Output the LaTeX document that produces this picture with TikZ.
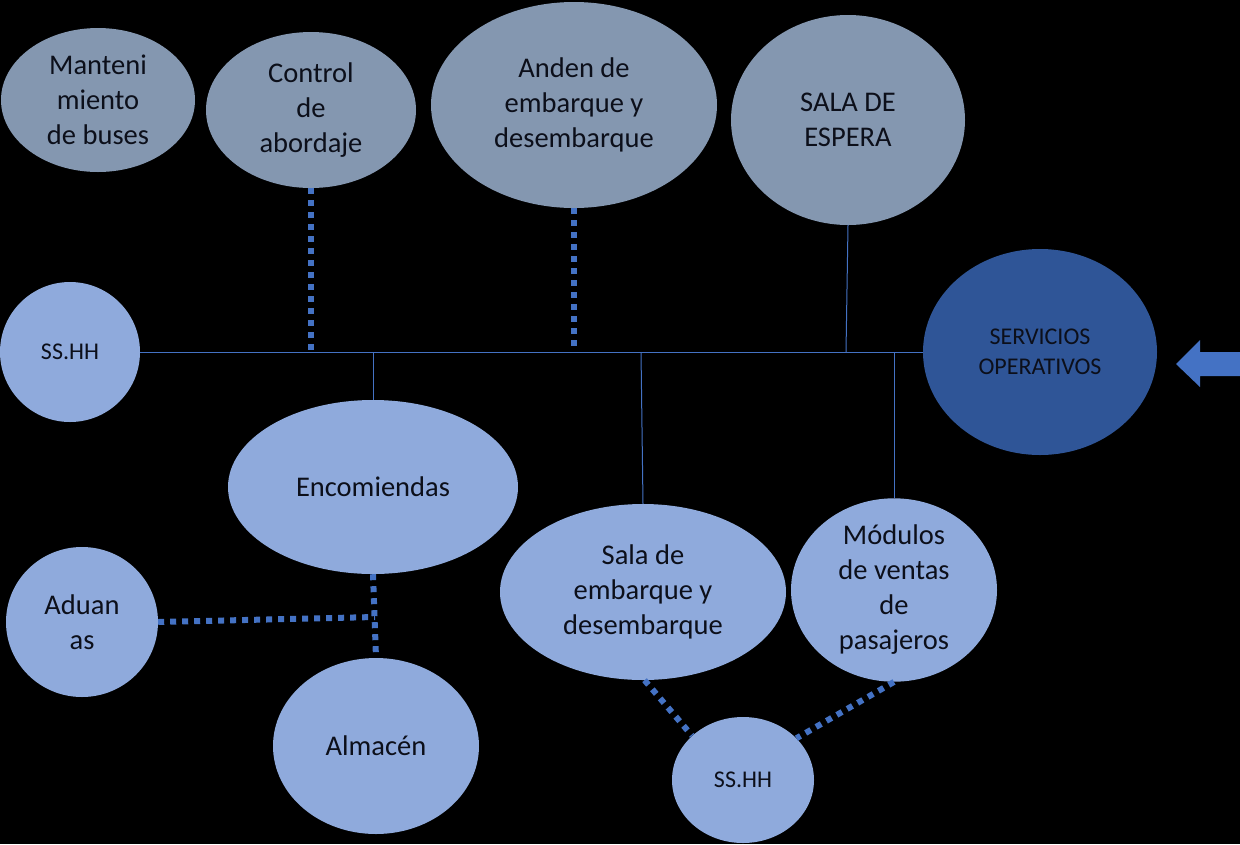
\documentclass[tikz,border=0pt]{standalone}
\usepackage{fontspec}
\setmainfont{Carlito}
\usetikzlibrary{shapes.geometric}
\definecolor{topgray}{HTML}{8497B0}
\definecolor{lightblue}{HTML}{8FAADC}
\definecolor{darkblue}{HTML}{2F5597}
\definecolor{linkblue}{HTML}{4472C4}
\definecolor{txt}{HTML}{0C0F1A}
\tikzset{
  oval/.style={ellipse, inner sep=0pt, align=center, text=txt, font=\fontsize{28.5}{35}\selectfont},
  topoval/.style={oval, fill=topgray},
  lowoval/.style={oval, fill=lightblue},
  smalltext/.style={font=\fontsize{24}{30}\selectfont},
  thinlink/.style={draw=linkblue, line width=1pt},
  dotlink/.style={draw=linkblue, line width=6pt, dash pattern=on 6pt off 6pt}
}
\begin{document}
\begin{tikzpicture}[x=1pt,y=-1pt]
\fill[black] (0,0) rectangle (1240,844);
\useasboundingbox (0,0) rectangle (1240,844);
% top row
\node[topoval, minimum width=194pt, minimum height=144pt] (mant) at (98,100) {Manteni\\miento\\de buses};
\node[topoval, minimum width=210pt, minimum height=156pt] (ctrl) at (311,110) {Control\\de\\abordaje};
\node[topoval, minimum width=286pt, minimum height=206pt] (anden) at (574,105) {Anden de\\embarque y\\desembarque};
\node[topoval, minimum width=234pt, minimum height=210pt] (sala) at (848,120) {SALA DE\\ESPERA};
% middle
\node[lowoval, smalltext, minimum width=140pt, minimum height=140pt] (sshhA) at (70,352) {SS.HH};
\node[oval, smalltext, fill=darkblue, minimum width=234pt, minimum height=206pt] (serv) at (1040,352) {SERVICIOS\\OPERATIVOS};
% lower
\node[lowoval, minimum width=290pt, minimum height=174pt] (enc) at (373,487) {Encomiendas};
\node[lowoval, minimum width=152pt, minimum height=150pt] (adu) at (82,622) {Aduan\\as};
\node[lowoval, minimum width=206pt, minimum height=176pt] (alm) at (376,746) {Almacén};
\node[lowoval, minimum width=286pt, minimum height=176pt] (salaemb) at (643,592) {Sala de\\embarque y\\desembarque};
\node[lowoval, minimum width=206pt, minimum height=176pt] (mod) at (894,590) {Módulos\\de ventas\\de\\pasajeros};
\node[lowoval, smalltext, minimum width=142pt, minimum height=126pt] (sshhB) at (743,780) {SS.HH};
% junction coordinates
\coordinate (jA) at (311,352);
\coordinate (jB) at (574,348);
\coordinate (jC) at (373,352);
\coordinate (jD) at (641,352);
\coordinate (jE) at (894,352);
\coordinate (jF) at (846,352);
\coordinate (jG) at (375,617);
% thin connectors
\draw[thinlink] (sshhA.east) -- (serv.west);
\draw[thinlink] (sala.south) -- (jF);
\draw[thinlink] (jC) -- (enc.north);
\draw[thinlink] (jD) -- (salaemb.north);
\draw[thinlink] (jE) -- (mod.north);
% dotted connectors
\draw[dotlink] (ctrl.south) -- (jA);
\draw[dotlink] (anden.south) -- (jB);
\draw[dotlink] (enc.south) -- (alm.north);
\draw[dotlink] (adu.east) -- (jG);
\draw[dotlink] (salaemb.-89) -- (sshhB.139);
\draw[dotlink] (mod.south) -- (sshhB.38);
% block arrow
\fill[linkblue] (1240,352) -- (1200,352) -- (1200,340) -- (1176,364) -- (1200,387) -- (1200,376) -- (1240,376) -- cycle;
\end{tikzpicture}
\end{document}
